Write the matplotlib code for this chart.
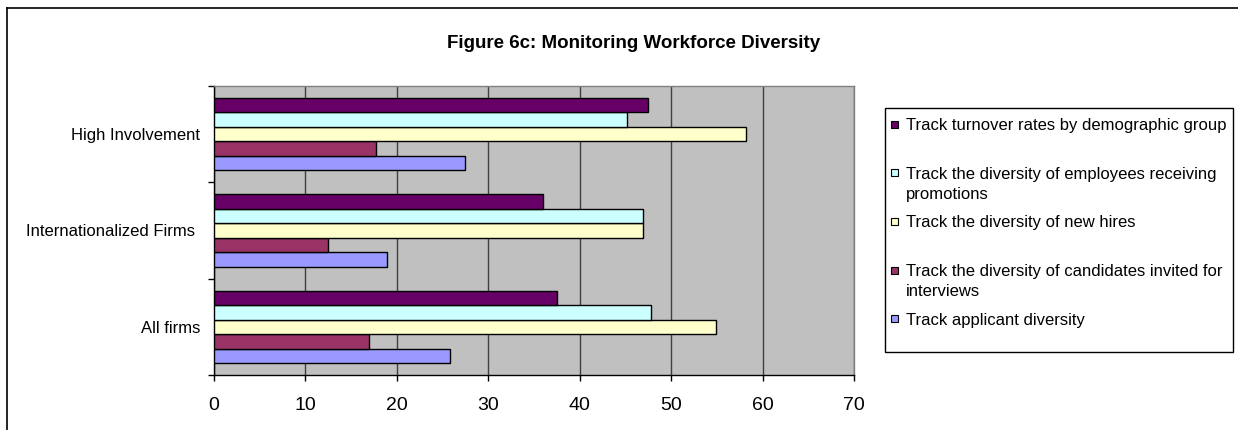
import numpy as np
import matplotlib.pyplot as plt
from matplotlib.patches import Rectangle
from matplotlib.lines import Line2D

plt.rcParams['font.family'] = ['Liberation Sans', 'DejaVu Sans']

categories = ['All firms', 'Internationalized Firms ', 'High Involvement']

# series in Excel order (first one drawn at the bottom of each group)
series_names = [
    'Track applicant diversity',
    'Track the diversity of candidates invited for\ninterviews',
    'Track the diversity of new hires',
    'Track the diversity of employees receiving\npromotions',
    'Track turnover rates by demographic group',
]
series_colors = ['#9999FF', '#993366', '#FFFFCC', '#CCFFFF', '#660066']

applicant = [25.8, 18.9, 27.5]
candidates = [16.9, 12.5, 17.7]
new_hires = [54.9, 46.9, 58.2]
promotions = [47.8, 46.9, 45.2]
turnover = [37.5, 36.0, 47.5]
values = [applicant, candidates, new_hires, promotions, turnover]

xticks = [0, 10, 20, 30, 40, 50, 60, 70]

W, H = 1238, 430
fig = plt.figure(figsize=(W / 100, H / 100), dpi=100)


def fx(px):
    return px / W


def fy(py):
    return 1 - py / H


# plot area in pixels: left 214, right 854, top 86, bottom 375
ax = fig.add_axes([fx(214), fy(375), fx(854) - fx(214), fy(86) - fy(375)])
ax.set_facecolor('#C0C0C0')

y = np.arange(len(categories))
bar_h = 0.15
for i, (vals, col) in enumerate(zip(values, series_colors)):
    ax.barh(y + (i - 2) * bar_h, vals, height=bar_h, color=col,
            edgecolor='black', linewidth=1, zorder=3)

ax.set_xlim(0, 70)
ax.set_ylim(-0.5, 2.5)
ax.set_xticks(xticks)
ax.set_xticklabels([str(t) for t in xticks], fontsize=14)
ax.tick_params(axis='x', direction='out', length=4.5, width=1, pad=11)
ax.xaxis.grid(True, color='#404040', linewidth=1, zorder=1)

ax.set_yticks(y)
ax.set_yticklabels(categories, fontsize=12)
ax.tick_params(axis='y', which='major', length=0, pad=10)
ax.set_yticks([-0.5, 0.5, 1.5, 2.5], minor=True)
ax.tick_params(axis='y', which='minor', direction='out', length=4.5, width=1)

for s in ['left', 'bottom']:
    ax.spines[s].set_color('black')
    ax.spines[s].set_linewidth(1)
for s in ['top', 'right']:
    ax.spines[s].set_color('#808080')
    ax.spines[s].set_linewidth(1)

fig.text(fx(634), fy(44), 'Figure 6c: Monitoring Workforce Diversity',
         fontsize=13.5, fontweight='bold', ha='center', va='center')

# outer chart frame (top and left edges visible)
fig.add_artist(Line2D([fx(7), fx(W)], [fy(8), fy(8)], color='black', lw=1.2))
fig.add_artist(Line2D([fx(7), fx(7)], [fy(8), fy(H)], color='black', lw=1.2))

# legend box
fig.add_artist(Rectangle((fx(885), fy(352)), fx(1233) - fx(885), fy(108) - fy(352),
                         facecolor='white', edgecolor='black', lw=1))
slot0, slot_step = 124, 48.7
for k, idx in enumerate(range(len(series_names) - 1, -1, -1)):
    yc = slot0 + k * slot_step
    fig.add_artist(Rectangle((fx(891), fy(yc + 3.5)), fx(7), 7 / H,
                             facecolor=series_colors[idx], edgecolor='black', lw=0.8))
    for j, line in enumerate(series_names[idx].split('\n')):
        fig.text(fx(906), fy(yc + j * 20), line, fontsize=12,
                 ha='left', va='center_baseline')

fig.savefig('out.png', dpi=100)
